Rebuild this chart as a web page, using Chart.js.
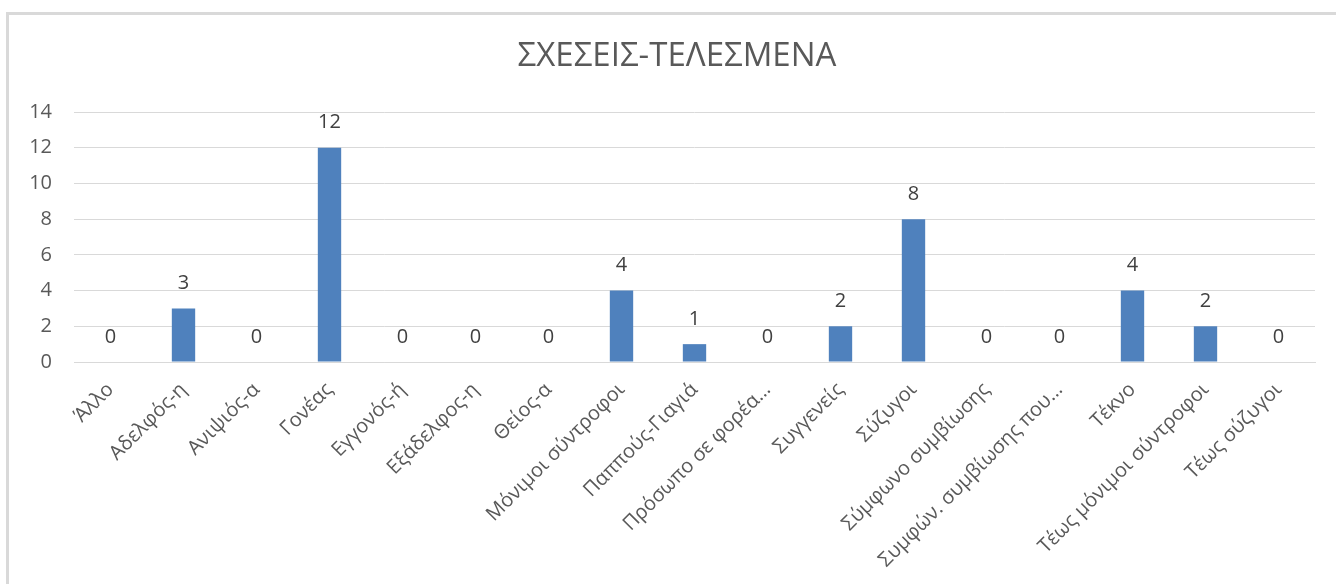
<!DOCTYPE html>
<html>
<head>
<meta charset="utf-8">
<script src="https://cdn.jsdelivr.net/npm/chart.js@4"></script>
<style>
html,body{margin:0;padding:0;background:#fff;}
#wrap{position:relative;width:1336px;height:584px;overflow:hidden;}
#frame{position:absolute;left:6px;top:12px;width:1400px;height:700px;border:3px solid #d9d9d9;box-sizing:border-box;}
canvas{position:absolute;left:0;top:0;}
</style>
</head>
<body>
<div id="wrap"><div id="frame"></div><canvas id="c" width="1336" height="584"></canvas></div>
<script>
const titleText = 'ΣΧΕΣΕΙΣ-ΤΕΛΕΣΜΕΝΑ';
const categories = ['Άλλο','Αδελφός-η','Ανιψιός-α','Γονέας','Εγγονός-ή','Εξάδελφος-η','Θείος-α','Μόνιμοι σύντροφοι','Παππούς-Γιαγιά','Πρόσωπο σε φορέα…','Συγγενείς','Σύζυγοι','Σύμφωνο συμβίωσης','Συμφών. συμβίωσης που…','Τέκνο','Τέως μόνιμοι σύντροφοι','Τέως σύζυγοι'];
const values = [0,3,0,12,0,0,0,4,1,0,2,8,0,0,4,2,0];
const yTicks = [0,2,4,6,8,10,12,14];

const FONT = '"Open Sans", sans-serif';

const decor = {
  id: 'decor',
  afterDraw(chart) {
    const ctx = chart.ctx;
    ctx.save();
    ctx.font = '33px ' + FONT;
    ctx.fillStyle = '#595959';
    ctx.textAlign = 'center';
    ctx.textBaseline = 'middle';
    ctx.fillText(titleText, 677, 57);
    ctx.restore();
  },
  afterDatasetsDraw(chart) {
    const ctx = chart.ctx;
    const meta = chart.getDatasetMeta(0);
    ctx.save();
    ctx.font = '20px ' + FONT;
    ctx.fillStyle = '#404040';
    ctx.textAlign = 'center';
    ctx.textBaseline = 'middle';
    meta.data.forEach((bar, i) => {
      ctx.fillText(String(values[i]), bar.x, bar.y - 25);
    });
    ctx.restore();
  }
};

new Chart(document.getElementById('c'), {
  type: 'bar',
  data: {
    labels: categories,
    datasets: [{
      data: values,
      backgroundColor: '#4F81BD',
      borderWidth: 0,
      categoryPercentage: 1,
      barPercentage: 0.32
    }]
  },
  options: {
    responsive: false,
    animation: false,
    layout: { padding: { left: 0, right: 21, top: 112, bottom: 0 } },
    plugins: {
      legend: { display: false },
      tooltip: { enabled: false },
      title: { display: false }
    },
    scales: {
      x: {
        grid: { display: false, drawTicks: false },
        border: { display: true, color: '#d9d9d9', width: 1 },
        ticks: {
          color: '#595959',
          font: { family: FONT, size: 20 },
          maxRotation: 45,
          minRotation: 45,
          autoSkip: false,
          padding: 16
        },
        afterFit(s) { s.height = 222; }
      },
      y: {
        min: 0,
        max: 14,
        afterBuildTicks(s) { s.ticks = yTicks.map(v => ({ value: v })); },
        grid: { color: '#d9d9d9', drawTicks: false, lineWidth: 1 },
        border: { display: false },
        ticks: {
          color: '#595959',
          font: { family: FONT, size: 20 },
          padding: 22
        },
        afterFit(s) { s.width = 74; }
      }
    }
  },
  plugins: [decor]
});
</script>
</body>
</html>
